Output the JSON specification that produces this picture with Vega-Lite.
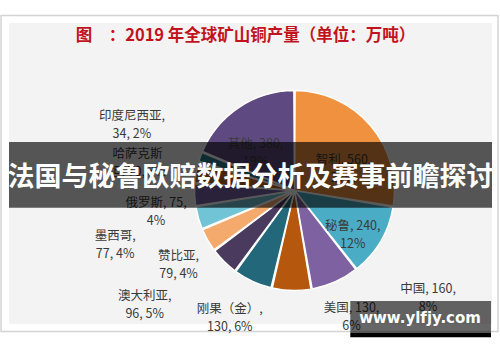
{
  "$schema": "https://vega.github.io/schema/vega-lite/v6.json",
  "width": 500,
  "height": 362,
  "autosize": {"type": "fit", "contains": "padding"},
  "padding": {"left": 0, "right": 1, "top": 13, "bottom": 10},
  "background": "#FFFFFF",
  "view": {"fill": "#F3F3F3", "stroke": null},
  "config": {
    "text": {"lineBreak": "\n", "lineHeight": 18, "fontSize": 12.5, "font": "Noto Sans CJK SC", "fill": "#3A3A3A", "align": "center", "baseline": "middle"}
  },
  "data": {
    "values": [
      {"country": "智利", "value": 560, "label": "智利, 560,\n27%", "rank": 1},
      {"country": "秘鲁", "value": 240, "label": "秘鲁, 240,\n12%", "rank": 2},
      {"country": "中国", "value": 160, "label": "中国, 160,\n8%", "rank": 3},
      {"country": "美国", "value": 130, "label": "美国, 130,\n6%", "rank": 4},
      {"country": "刚果（金）", "value": 130, "label": "刚果（金）,\n130, 6%", "rank": 5},
      {"country": "澳大利亚", "value": 96, "label": "澳大利亚,\n96, 5%", "rank": 6},
      {"country": "赞比亚", "value": 79, "label": "赞比亚,\n79, 4%", "rank": 7},
      {"country": "墨西哥", "value": 77, "label": "墨西哥,\n77, 4%", "rank": 8},
      {"country": "俄罗斯", "value": 75, "label": "俄罗斯, 75,\n4%", "rank": 9},
      {"country": "哈萨克斯坦", "value": 70, "label": "哈萨克斯\n坦, 70, 3%", "rank": 10},
      {"country": "印度尼西亚", "value": 34, "label": "印度尼西亚,\n34, 2%", "rank": 11},
      {"country": "其他", "value": 380, "label": "其他, 380,\n19%", "rank": 12}
    ]
  },
  "layer": [
    {
      "data": {"values": [{"part": "frame"}]},
      "mark": {"type": "rect", "fill": null, "stroke": "#D4D4D4", "strokeWidth": 1.5},
      "encoding": {
        "x": {"datum": -0.0165, "type": "quantitative", "scale": {"domain": [0, 1]}, "axis": null},
        "x2": {"datum": 1.0124},
        "y": {"datum": -0.0253, "type": "quantitative", "scale": {"domain": [0, 1], "reverse": true}, "axis": null},
        "y2": {"datum": 1.0253}
      }
    },
    {
      "mark": {"type": "arc", "radius": 100, "stroke": "#FFFFFF", "strokeWidth": 1.5, "padAngle": 0.012, "xOffset": 44, "yOffset": 17},
      "encoding": {
        "theta": {"field": "value", "type": "quantitative", "stack": true},
        "order": {"field": "rank", "type": "quantitative"},
        "color": {
          "field": "country",
          "type": "nominal",
          "legend": null,
          "scale": {
            "domain": ["智利", "秘鲁", "中国", "美国", "刚果（金）", "澳大利亚", "赞比亚", "墨西哥", "俄罗斯", "哈萨克斯坦", "印度尼西亚", "其他"],
            "range": ["#F0913F", "#4BACC6", "#7D61A0", "#B5570C", "#23677A", "#4A3A5E", "#F5AA6D", "#71C3D6", "#7A62A6", "#C7681C", "#2A7C8E", "#5E4A80"]
          }
        }
      }
    },
    {
      "encoding": {
        "theta": {"field": "value", "type": "quantitative", "stack": true},
        "order": {"field": "rank", "type": "quantitative"},
        "detail": {"field": "country", "type": "nominal"}
      },
      "layer": [
        {"mark": {"type": "text", "radius": 58, "thetaOffset": 0.141, "xOffset": 44, "yOffset": 17},
         "encoding": {"text": {"condition": {"test": "datum.country === '智利'", "field": "label"}, "value": ""}}},
        {"mark": {"type": "text", "radius": 68, "thetaOffset": 0.01, "xOffset": 44, "yOffset": 17},
         "encoding": {"text": {"condition": {"test": "datum.country === '秘鲁'", "field": "label"}, "value": ""}}},
        {"mark": {"type": "text", "radius": 166, "thetaOffset": -0.516, "xOffset": 44, "yOffset": 17},
         "encoding": {"text": {"condition": {"test": "datum.country === '中国'", "field": "label"}, "value": ""}}},
        {"mark": {"type": "text", "radius": 131, "thetaOffset": -0.48, "xOffset": 44, "yOffset": 17},
         "encoding": {"text": {"condition": {"test": "datum.country === '美国'", "field": "label"}, "value": ""}}},
        {"mark": {"type": "text", "radius": 135, "thetaOffset": 0.068, "xOffset": 44, "yOffset": 17},
         "encoding": {"text": {"condition": {"test": "datum.country === '刚果（金）'", "field": "label"}, "value": ""}}},
        {"mark": {"type": "text", "radius": 183, "thetaOffset": 0.178, "xOffset": 44, "yOffset": 17},
         "encoding": {"text": {"condition": {"test": "datum.country === '澳大利亚'", "field": "label"}, "value": ""}}},
        {"mark": {"type": "text", "radius": 133, "thetaOffset": 0.007, "xOffset": 44, "yOffset": 17},
         "encoding": {"text": {"condition": {"test": "datum.country === '赞比亚'", "field": "label"}, "value": ""}}},
        {"mark": {"type": "text", "radius": 185, "thetaOffset": 0.03, "xOffset": 44, "yOffset": 17},
         "encoding": {"text": {"condition": {"test": "datum.country === '墨西哥'", "field": "label"}, "value": ""}}},
        {"mark": {"type": "text", "radius": 139, "thetaOffset": -0.047, "xOffset": 44, "yOffset": 17},
         "encoding": {"text": {"condition": {"test": "datum.country === '俄罗斯'", "field": "label"}, "value": ""}}},
        {"mark": {"type": "text", "radius": 161, "thetaOffset": 0.044, "xOffset": 44, "yOffset": 17},
         "encoding": {"text": {"condition": {"test": "datum.country === '哈萨克斯坦'", "field": "label"}, "value": ""}}},
        {"mark": {"type": "text", "radius": 179, "thetaOffset": 0.089, "xOffset": 44, "yOffset": 17},
         "encoding": {"text": {"condition": {"test": "datum.country === '印度尼西亚'", "field": "label"}, "value": ""}}},
        {"mark": {"type": "text", "radius": 61, "thetaOffset": -0.105, "xOffset": 44, "yOffset": 17},
         "encoding": {"text": {"condition": {"test": "datum.country === '其他'", "field": "label"}, "value": ""}}}
      ]
    },
    {
      "data": {"values": [{"heading": "图　：2019 年全球矿山铜产量（单位：万吨）"}]},
      "mark": {"type": "text", "fontSize": 16.5, "fontWeight": "bold", "font": "Noto Sans CJK SC", "fill": "#C2121C", "align": "center", "baseline": "middle", "dx": -5},
      "encoding": {
        "y": {"datum": 0.0443, "type": "quantitative", "scale": {"domain": [0, 1], "reverse": true}, "axis": null},
        "text": {"field": "heading"}
      }
    },
    {
      "data": {"values": [{"caption": "法国与秘鲁欧赔数据分析及赛事前瞻探讨"}]},
      "mark": {"type": "rect", "fill": "#000000", "opacity": 0.65},
      "encoding": {
        "y": {"datum": 0.3956, "type": "quantitative", "scale": {"domain": [0, 1], "reverse": true}, "axis": null},
        "y2": {"datum": 0.6139}
      }
    },
    {
      "data": {"values": [{"caption": "法国与秘鲁欧赔数据分析及赛事前瞻探讨"}]},
      "mark": {"type": "text", "fontSize": 27, "fontWeight": "bold", "font": "Noto Sans CJK SC", "fill": "#FFFFFF", "align": "center", "baseline": "middle"},
      "encoding": {
        "y": {"datum": 0.515, "type": "quantitative", "scale": {"domain": [0, 1], "reverse": true}, "axis": null},
        "text": {"field": "caption"}
      }
    },
    {
      "data": {"values": [{"site": "www.ylfjy.com"}]},
      "mark": {"type": "rect", "fill": "#000000", "opacity": 0.6},
      "encoding": {
        "x": {"datum": 0.7066, "type": "quantitative", "scale": {"domain": [0, 1]}, "axis": null},
        "x2": {"datum": 0.998},
        "y": {"datum": 0.924, "type": "quantitative", "scale": {"domain": [0, 1], "reverse": true}, "axis": null},
        "y2": {"datum": 1.0285}
      }
    },
    {
      "data": {"values": [{"site": "www.ylfjy.com"}]},
      "mark": {"type": "rect", "fill": "#000000", "opacity": 1},
      "encoding": {
        "x": {"datum": 0.7066, "type": "quantitative", "scale": {"domain": [0, 1]}, "axis": null},
        "x2": {"datum": 0.998},
        "y": {"datum": 1.0285, "type": "quantitative", "scale": {"domain": [0, 1], "reverse": true}, "axis": null},
        "y2": {"datum": 1.0443}
      }
    },
    {
      "data": {"values": [{"site": "www.ylfjy.com"}]},
      "mark": {"type": "text", "fontSize": 15, "fontWeight": "bold", "font": "DejaVu Sans", "fill": "#FFFFFF", "align": "center", "baseline": "middle"},
      "encoding": {
        "x": {"datum": 0.851, "type": "quantitative", "scale": {"domain": [0, 1]}, "axis": null},
        "y": {"datum": 0.981, "type": "quantitative", "scale": {"domain": [0, 1], "reverse": true}, "axis": null},
        "text": {"field": "site"}
      }
    }
  ]
}
